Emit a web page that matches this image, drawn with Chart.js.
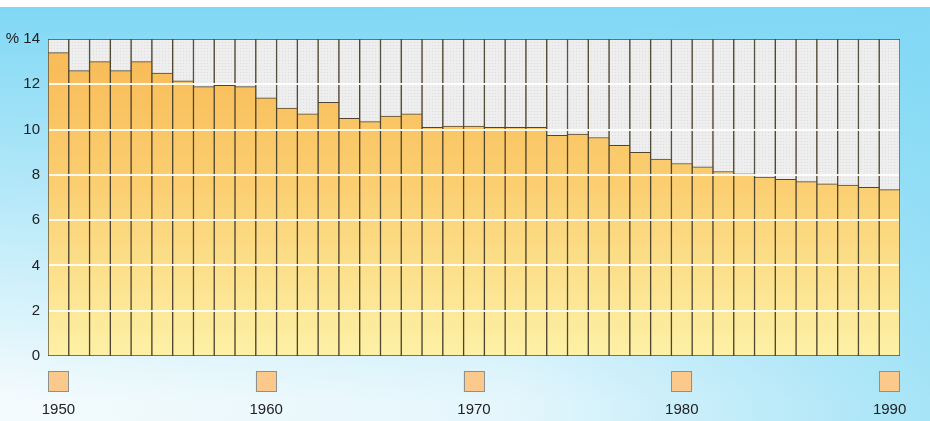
<!DOCTYPE html>
<html>
<head>
<meta charset="utf-8">
<script src="https://cdn.jsdelivr.net/npm/chart.js@4.4.1/dist/chart.umd.min.js"></script>
<style>
  html, body { margin: 0; padding: 0; }
  body {
    width: 930px; height: 421px; overflow: hidden;
    background:
      linear-gradient(#ffffff 0 7px, transparent 7px),
      linear-gradient(to bottom, rgba(128,216,245,1) 7px, rgba(128,216,245,0.55) 45%, rgba(128,216,245,0) 95%),
      linear-gradient(to right, #f4fbfd 0%, #e4f6fc 55%, #a6e4f7 100%);
  }
  #wrap { position: relative; width: 930px; height: 421px; }
</style>
</head>
<body>
<div id="wrap"><canvas id="grafico" width="930" height="421"></canvas></div>
<script>
const years = [1950, 1951, 1952, 1953, 1954, 1955, 1956, 1957, 1958, 1959,
  1960, 1961, 1962, 1963, 1964, 1965, 1966, 1967, 1968, 1969,
  1970, 1971, 1972, 1973, 1974, 1975, 1976, 1977, 1978, 1979,
  1980, 1981, 1982, 1983, 1984, 1985, 1986, 1987, 1988, 1989, 1990];
const values = [13.4, 12.6, 13.0, 12.6, 13.0, 12.5, 12.15, 11.9, 11.95, 11.9,
  11.4, 10.95, 10.7, 11.2, 10.5, 10.35, 10.6, 10.7, 10.1, 10.15,
  10.15, 10.1, 10.1, 10.1, 9.75, 9.8, 9.65, 9.3, 9.0, 8.7,
  8.5, 8.35, 8.15, 8.05, 7.9, 7.8, 7.7, 7.6, 7.55, 7.45, 7.35];
const markedYears = [1950, 1960, 1970, 1980, 1990];
const yTicks = [0, 2, 4, 6, 8, 10, 12, 14];
const scaleMax = 14;
const labelFont = '15px "Liberation Sans", Arial, sans-serif';

// dotted light gray for the empty part of each column
const pat = document.createElement('canvas');
pat.width = 3; pat.height = 3;
const pctx = pat.getContext('2d');
pctx.fillStyle = '#eeeeee';
pctx.fillRect(0, 0, 3, 3);
pctx.fillStyle = '#dedede';
pctx.fillRect(0, 0, 1, 1);
const grayFill = pctx.createPattern(pat, 'repeat');

function orangeFill(context) {
  const chart = context.chart;
  const area = chart.chartArea;
  if (!area) return '#f9c56a';
  const g = chart.ctx.createLinearGradient(0, area.top, 0, area.bottom);
  g.addColorStop(0, '#f8b955');
  g.addColorStop(0.45, '#fbce70');
  g.addColorStop(1, '#fdf1a6');
  return g;
}

const gridOnTop = {
  id: 'gridOnTop',
  afterDatasetsDraw(chart) {
    const ctx = chart.ctx;
    const y = chart.scales.y;
    const area = chart.chartArea;
    ctx.save();
    ctx.strokeStyle = 'rgba(255,255,255,0.9)';
    ctx.lineWidth = 2;
    yTicks.forEach(v => {
      if (v === 0 || v === scaleMax) return;
      const py = Math.round(y.getPixelForValue(v));
      ctx.beginPath();
      ctx.moveTo(area.left + 1, py);
      ctx.lineTo(area.right - 1, py);
      ctx.stroke();
    });
    ctx.restore();
  }
};

// squares + year labels under the columns
const yearMarkers = {
  id: 'yearMarkers',
  afterDraw(chart) {
    const ctx = chart.ctx;
    const x = chart.scales.x;
    const w = chart.getDatasetMeta(1).data[0].width;
    const top = chart.chartArea.bottom + 15;
    ctx.save();
    markedYears.forEach(yr => {
      const cx = x.getPixelForValue(years.indexOf(yr));
      ctx.fillStyle = '#fbc98b';
      ctx.fillRect(cx - w / 2, top, w, w);
      ctx.strokeStyle = '#8f8f8f';
      ctx.lineWidth = 1;
      ctx.strokeRect(Math.round(cx - w / 2) + 0.5, top + 0.5, Math.round(w) - 1, Math.round(w) - 1);
      ctx.fillStyle = '#222';
      ctx.font = labelFont;
      ctx.textAlign = 'center';
      ctx.textBaseline = 'middle';
      ctx.fillText(String(yr), cx, 410);
    });
    ctx.restore();
  }
};

new Chart(document.getElementById('grafico'), {
  type: 'bar',
  data: {
    labels: years,
    datasets: [{
      label: 'total',
      data: years.map(() => scaleMax),
      backgroundColor: grayFill,
      borderColor: '#4f4631',
      borderWidth: 1,
      borderSkipped: false,
      order: 2
    }, {
      label: '%',
      data: values,
      backgroundColor: orangeFill,
      borderColor: '#4f4631',
      borderWidth: 1,
      borderSkipped: false,
      order: 1
    }]
  },
  options: {
    responsive: false,
    animation: false,
    layout: { padding: { left: 0, right: 30, top: 39, bottom: 0 } },
    datasets: { bar: { grouped: false, categoryPercentage: 1, barPercentage: 1 } },
    plugins: { legend: { display: false }, tooltip: { enabled: false } },
    scales: {
      x: {
        grid: { display: false, drawTicks: false },
        border: { display: false },
        ticks: { display: false },
        afterFit: s => { s.height = 65; }
      },
      y: {
        min: 0,
        max: scaleMax,
        grid: { display: false, drawTicks: false },
        border: { display: false },
        afterFit: s => { s.width = 48; },
        afterBuildTicks: s => { s.ticks = yTicks.map(v => ({ value: v })); },
        ticks: {
          padding: 8,
          color: '#222',
          font: { family: 'Liberation Sans, Arial, sans-serif', size: 15 },
          callback: v => v === scaleMax ? '% ' + v : String(v)
        }
      }
    }
  },
  plugins: [gridOnTop, yearMarkers]
});
</script>
</body>
</html>
